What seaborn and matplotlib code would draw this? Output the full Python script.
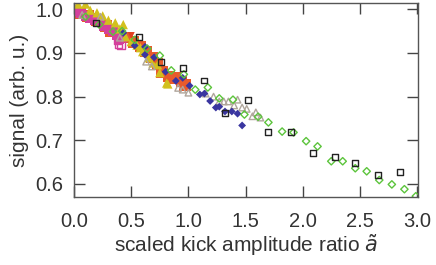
import numpy as np
import pandas as pd
import matplotlib
matplotlib.use("Agg")
import matplotlib.pyplot as plt
import seaborn as sns

# data
black_x = [0.19, 0.57, 0.76, 0.95, 1.14, 1.32, 1.52, 1.70, 1.90, 2.09, 2.28, 2.46, 2.66, 2.85]
black_y = [0.969, 0.937, 0.880, 0.866, 0.837, 0.763, 0.793, 0.718, 0.718, 0.670, 0.661, 0.647, 0.620, 0.627]

green_x = [0.10, 0.22, 0.34, 0.42, 0.53, 0.64, 0.75, 0.85, 0.96, 1.06, 1.17, 1.27, 1.39, 1.49,
           1.61, 1.70, 1.82, 1.92, 2.03, 2.13, 2.25, 2.35, 2.46, 2.56, 2.67, 2.78, 2.89, 2.99]
green_y = [0.983, 0.965, 0.949, 0.950, 0.930, 0.910, 0.894, 0.860, 0.851, 0.816, 0.821, 0.796, 0.793, 0.759,
           0.754, 0.741, 0.720, 0.718, 0.698, 0.686, 0.652, 0.652, 0.636, 0.629, 0.609, 0.599, 0.588, 0.572]

blue_x = [0.43, 0.53, 0.62, 0.62, 0.70, 0.80, 0.89, 0.95, 1.01, 1.10, 1.14, 1.19, 1.24, 1.27, 1.32, 1.38, 1.43, 1.47]
blue_y = [0.946, 0.917, 0.914, 0.896, 0.890, 0.857, 0.836, 0.843, 0.825, 0.805, 0.807, 0.790, 0.775, 0.777,
          0.766, 0.766, 0.761, 0.734]

gray_x = [0.07, 0.23, 0.40, 0.63, 0.68, 0.91, 0.95, 1.00, 1.15, 1.22, 1.27, 1.31, 1.35, 1.40, 1.43, 1.47,
          1.51, 1.56, 1.59, 1.63]
gray_y = [0.987, 0.983, 0.935, 0.880, 0.869, 0.820, 0.816, 0.809, 0.807, 0.800, 0.789, 0.789, 0.789, 0.780,
          0.793, 0.775, 0.772, 0.755, 0.764, 0.752]

orange_x = [0.05, 0.12, 0.20, 0.28, 0.32, 0.38, 0.45, 0.52, 0.58, 0.63, 0.68, 0.73, 0.77, 0.83, 0.88, 0.94, 0.97]
orange_y = [0.990, 0.985, 0.975, 0.962, 0.950, 0.942, 0.935, 0.925, 0.915, 0.903, 0.890, 0.875, 0.857, 0.846,
            0.842, 0.835, 0.827]

magenta_x = [0.00, 0.03, 0.06, 0.10, 0.14, 0.18, 0.22, 0.26, 0.30, 0.34, 0.37, 0.40]
magenta_y = [1.000, 0.995, 0.990, 0.985, 0.980, 0.975, 0.970, 0.962, 0.955, 0.950, 0.940, 0.932]

magenta_open_x = [0.00, 0.02, 0.38, 0.39, 0.41, 0.42]
magenta_open_y = [1.000, 0.995, 0.930, 0.921, 0.918, 0.935]

yellow_x = [0.035, 0.10, 0.14, 0.20, 0.25, 0.30, 0.36, 0.40, 0.43, 0.45, 0.50, 0.55, 0.58, 0.60, 0.65,
            0.69, 0.73, 0.75, 0.81, 0.82]
yellow_y = [1.012, 1.012, 0.998, 0.992, 0.985, 0.975, 0.969, 0.955, 0.965, 0.937, 0.926, 0.918, 0.912, 0.903,
            0.889, 0.877, 0.873, 0.855, 0.831, 0.829]

red_tri_x = [0.50, 0.70]
red_tri_y = [0.940, 0.885]

sns.set_style("ticks")
plt.rcParams['font.family'] = ['Liberation Sans', 'DejaVu Sans']

fig = plt.figure(figsize=(4.36, 2.65), dpi=100)
ax = fig.add_axes([0.170, 0.258, 0.789, 0.730])

sns.scatterplot(x=orange_x, y=orange_y, marker='s', s=70, color='#e85a2c', edgecolor='none', ax=ax)
sns.scatterplot(x=magenta_x, y=magenta_y, marker='s', s=45, color='#d4409c', edgecolor='none', ax=ax)
sns.scatterplot(x=magenta_open_x, y=magenta_open_y, marker='s', s=30, facecolor='none',
                edgecolor='#d4409c', linewidth=1, ax=ax)
sns.scatterplot(x=yellow_x, y=yellow_y, marker='^', s=45, color='#d2c01e', edgecolor='none', ax=ax)
sns.scatterplot(x=red_tri_x, y=red_tri_y, marker='v', s=25, color='#e04020', edgecolor='none', ax=ax)
sns.scatterplot(x=gray_x, y=gray_y, marker='^', s=22, facecolor='none', edgecolor='#b0a69c',
                linewidth=1, ax=ax)
sns.scatterplot(x=blue_x, y=blue_y, marker='D', s=16, color='#3a36a0', edgecolor='none', ax=ax)
sns.scatterplot(x=green_x, y=green_y, marker='D', s=14, facecolor='none', edgecolor='#5cc43c',
                linewidth=1, ax=ax)
sns.scatterplot(x=black_x, y=black_y, marker='s', s=18, facecolor='none', edgecolor='#222222',
                linewidth=1, ax=ax)

ax.set_xlim(0, 3.01)
ax.set_ylim(0.571, 1.014)
ax.set_xticks([0.0, 0.5, 1.0, 1.5, 2.0, 2.5, 3.0])
ax.set_yticks([0.6, 0.7, 0.8, 0.9, 1.0])
ax.xaxis.set_major_formatter(matplotlib.ticker.FormatStrFormatter('%.1f'))
ax.yaxis.set_major_formatter(matplotlib.ticker.FormatStrFormatter('%.1f'))
ax.tick_params(direction='in', length=8, width=1, color='#444444', labelsize=14.5,
               labelcolor='#333333', top=True, right=True)
ax.tick_params(axis='x', pad=11)
ax.tick_params(axis='y', pad=8)
for sp in ax.spines.values():
    sp.set_color('#555555')
    sp.set_linewidth(1)

ax.set_xlabel('scaled kick amplitude ratio $\\tilde{a}$', fontsize=15, color='#333333', labelpad=1)
ax.set_ylabel('signal (arb. u.)', fontsize=15, color='#333333', labelpad=4)

fig.savefig('out.png', dpi=100)
